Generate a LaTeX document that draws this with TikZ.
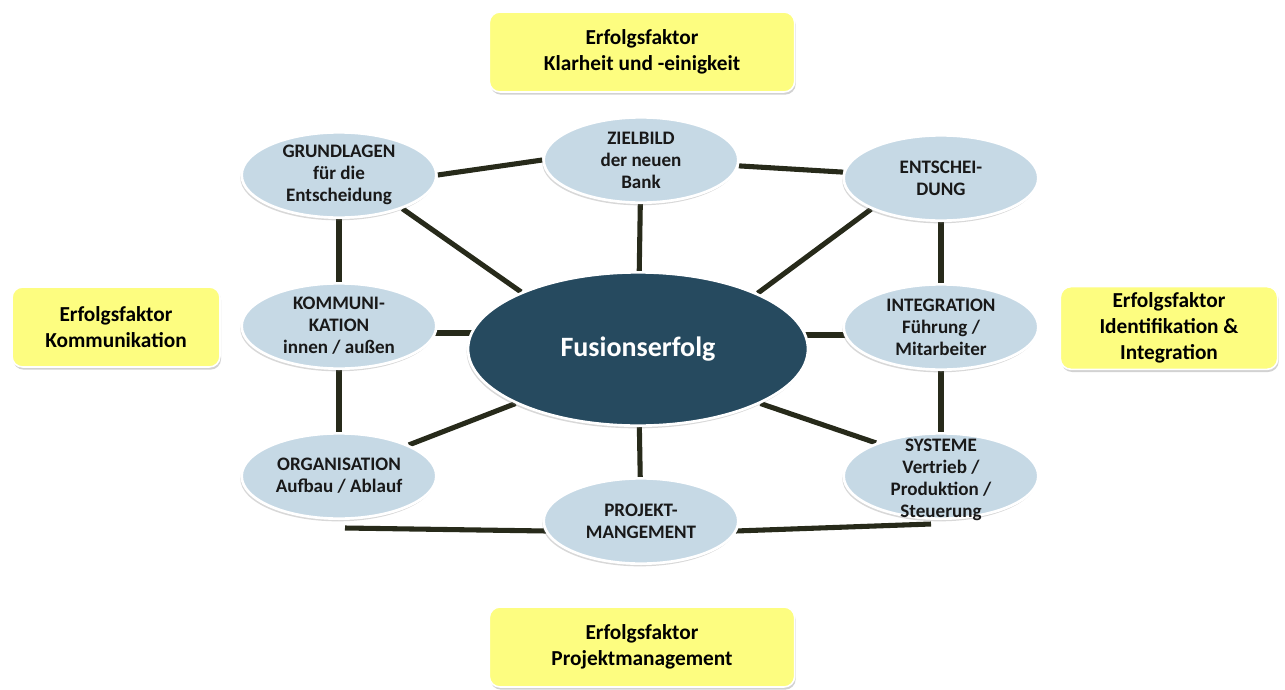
\documentclass[tikz,border=0pt]{standalone}
\usepackage{fontspec}
\setmainfont{Carlito}
\usetikzlibrary{shapes.geometric,shadows,calc}
\definecolor{ybox}{HTML}{FDFD80}
\definecolor{eblue}{HTML}{C6D9E5}
\definecolor{cdark}{HTML}{264A5F}
\definecolor{lnk}{HTML}{272A1A}
\pgfdeclarelayer{bgfill}
\pgfdeclarelayer{lines}
\pgfsetlayers{bgfill,lines,main}
\tikzset{
  factorbox/.style={rectangle, rounded corners=8pt, fill=ybox, draw=white, line width=1.2pt,
    drop shadow={shadow xshift=0.8pt, shadow yshift=-2pt, opacity=0.35},
    align=center, inner sep=0pt, font=\bfseries\fontsize{16}{19.5}\selectfont, text=black},
  topic/.style={ellipse, fill=eblue, draw=white, line width=2pt,
    drop shadow={shadow xshift=-1pt, shadow yshift=-2pt, opacity=0.3},
    minimum width=146pt, minimum height=64pt, inner sep=0pt, align=center,
    font=\bfseries\fontsize{14.3}{16.5}\selectfont, text=black!90},
  core/.style={ellipse, fill=cdark, draw=white, line width=2pt,
    drop shadow={shadow xshift=-1pt, shadow yshift=-2pt, opacity=0.3},
    minimum width=255pt, minimum height=115pt, inner sep=0pt,
    font=\bfseries\fontsize{21}{25}\selectfont, text=white},
  link/.style={draw=lnk, line width=3.8pt}
}
\begin{document}
\begin{tikzpicture}[x=0.75pt,y=-0.75pt]
\begin{pgfonlayer}{bgfill}
\fill[white] (0,0) rectangle (1285,689);
\end{pgfonlayer}
\useasboundingbox (0,0) rectangle (1285,689);

% factor boxes
\node[factorbox, minimum width=229pt, minimum height=60pt] (ftop) at (642,52) {Erfolgsfaktor\\Klarheit und -einigkeit};
\node[factorbox, minimum width=156pt, minimum height=60pt] (fleft) at (116,327) {Erfolgsfaktor\\Kommunikation};
\node[factorbox, minimum width=163pt, minimum height=62pt] (fright) at (1169,328) {Erfolgsfaktor\\Identifikation \&\\Integration};
\node[factorbox, minimum width=229pt, minimum height=60pt] (fbot) at (642,647) {Erfolgsfaktor\\Projektmanagement};

% topic ellipses
\node[topic] (grund) at (339,175) {GRUNDLAGEN\\für die\\Entscheidung};
\node[topic] (ziel) at (641,160) {ZIELBILD\\der neuen\\Bank};
\node[topic] (ent) at (941,178) {ENTSCHEI-\\DUNG};
\node[topic] (komm) at (339,326) {KOMMUNI-\\KATION\\innen / außen};
\node[topic] (integ) at (941,327) {INTEGRATION\\Führung /\\Mitarbeiter};
\node[topic] (org) at (339,476) {ORGANISATION\\Aufbau / Ablauf};
\node[topic] (proj) at (641,521) {PROJEKT-\\MANGEMENT};
\node[topic] (sys) at (941,476) {\makebox[0pt]{\smash{\raisebox{-7pt}{\begin{tabular}{@{}c@{}}SYSTEME\\Vertrieb /\\Produktion /\\Steuerung\end{tabular}}}}};

% center
\node[core] (c) at (638,349) {Fusionserfolg};

\begin{pgfonlayer}{lines}
% ring
\draw[link] (grund.east) -- (ziel.west);
\draw[link] (ziel) -- (ent);
\draw[link] (ent) -- (integ);
\draw[link] (integ) -- (sys);
\draw[link] ($(sys.south)+(-10,4)$) -- ($(proj.east)+(-4,10)$);
\draw[link] ($(proj.west)+(4,10)$) -- ($(org.south)+(6,8)$);
\draw[link] (org) -- (komm);
\draw[link] (komm) -- (grund);
% spokes
\draw[link] (grund.-28) -- (c.154);
\draw[link] (ziel) -- (c);
\draw[link] (ent.204) -- (c.25);
\draw[link] ($(komm.east)+(-5,7)$) -- ($(c.west)+(6,-16)$);
\draw[link] ($(integ.west)+(5,8)$) -- ($(c.east)+(-6,-14)$);
\draw[link] (org.24) -- (c.204);
\draw[link] (proj) -- (c);
\draw[link] (sys.153) -- (c.336);
\end{pgfonlayer}
\end{tikzpicture}
\end{document}
